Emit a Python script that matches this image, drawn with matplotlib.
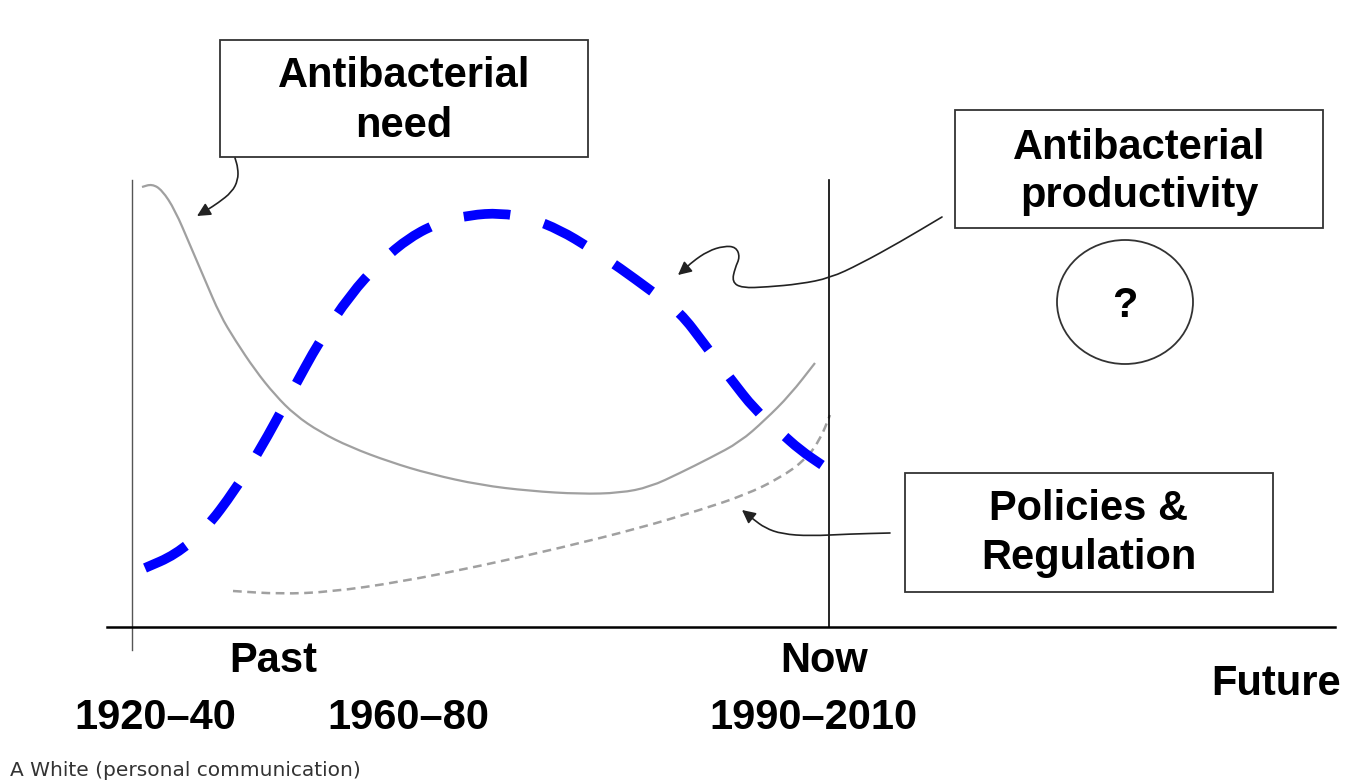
import numpy as np
import matplotlib
matplotlib.use("Agg")
import matplotlib.pyplot as plt
from matplotlib.patches import Rectangle, Ellipse, FancyArrowPatch, PathPatch
from matplotlib.path import Path

# curves (pixel space, y down)
need_x = [142, 152, 162, 175, 190, 205, 220, 235, 255, 275, 295, 320, 350, 390,
          430, 480, 530, 580, 620, 650, 680, 710, 740, 765, 790, 815]
need_y = [187, 184, 190, 210, 245, 280, 315, 340, 370, 395, 415, 432, 447, 462,
          474, 485, 491, 494, 493, 487, 473, 458, 442, 420, 395, 363]

prod_x = [145, 175, 205, 235, 260, 290, 320, 350, 380, 410, 440, 470, 500, 530,
          560, 590, 620, 650, 680, 705, 730, 755, 780, 800, 822]
prod_y = [568, 555, 530, 490, 450, 395, 340, 295, 262, 237, 222, 215, 213, 218,
          230, 248, 268, 290, 312, 345, 378, 410, 432, 450, 465]

pol_x = [233, 280, 330, 400, 480, 560, 640, 700, 745, 780, 805, 820, 830]
pol_y = [591, 594, 592, 582, 566, 548, 528, 510, 495, 478, 460, 440, 415]

era_labels = ["Past", "Now", "Future"]
era_x = [273, 824, 1276]
era_y = [661, 661, 684]
year_labels = ["1920\u201340", "1960\u201380", "1990\u20132010"]
year_x = [155, 408, 813]

W, H = 1348, 784
fig = plt.figure(figsize=(W / 100, H / 100), dpi=100)
ax = fig.add_axes([0, 0, 1, 1])
ax.set_xlim(0, W)
ax.set_ylim(H, 0)
ax.axis("off")

bold = dict(family="Liberation Sans", weight="bold", fontsize=30, color="black",
            ha="center", va="center")


def smooth_path(xs, ys):
    # quadratic bezier through midpoints, the read points act as control points
    p = np.column_stack([xs, ys]).astype(float)
    verts = [p[0], (p[0] + p[1]) / 2]
    codes = [Path.MOVETO, Path.LINETO]
    for i in range(1, len(p) - 1):
        verts += [p[i], (p[i] + p[i + 1]) / 2]
        codes += [Path.CURVE3, Path.CURVE3]
    verts.append(p[-1])
    codes.append(Path.LINETO)
    return Path(verts, codes)


def curve(xs, ys, **kw):
    pp = PathPatch(smooth_path(xs, ys), fill=False, **kw)
    ax.add_patch(pp)
    return pp


# axes of the diagram
ax.plot([132, 132], [180, 650], color="#555555", lw=1.0)
ax.plot([107, 1335], [627, 627], color="black", lw=1.8)
ax.plot([829, 829], [180, 627], color="black", lw=1.2)

# curves
curve(need_x, need_y, edgecolor="#a0a0a0", lw=1.6)
curve(pol_x, pol_y, edgecolor="#a0a0a0", lw=1.8, linestyle=(0, (3.5, 2.2)))

# blue dashes: stretch the gap a little so the line starts and ends on a dash
blue_lw = 7.0
poly = smooth_path(prod_x, prod_y).to_polygons(closed_only=False)[0]
length_px = np.sum(np.hypot(*np.diff(poly, axis=0).T))  # 1 data unit == 1 px
length_u = length_px * 0.72 / blue_lw
dash = 4.8
n = max(1, round((length_u - dash) / 8.2))
gap = (length_u - dash) / n - dash
bl = curve(prod_x, prod_y, edgecolor="#0000ff", lw=blue_lw,
           linestyle=(0, (dash, gap)))
bl.set_capstyle("butt")

# boxes
for x0, y0, w, h in [(220, 40, 368, 117), (955, 110, 368, 118), (905, 473, 368, 119)]:
    ax.add_patch(Rectangle((x0, y0), w, h, fill=True, facecolor="white",
                           edgecolor="#333333", lw=1.3, zorder=3))

ax.text(404, 76, "Antibacterial", zorder=4, **bold)
ax.text(404, 126, "need", zorder=4, **bold)
ax.text(1139, 148, "Antibacterial", zorder=4, **bold)
ax.text(1139, 196, "productivity", zorder=4, **bold)
ax.text(1089, 509, "Policies &", zorder=4, **bold)
ax.text(1089, 558, "Regulation", zorder=4, **bold)

ax.add_patch(Ellipse((1125, 302), 136, 124, fill=False, edgecolor="#333333", lw=1.3))
ax.text(1125, 306, "?", **bold)


# curved pointer arrows
def pointer(pts):
    xs, ys = zip(*pts)
    arr = FancyArrowPatch(path=smooth_path(xs, ys),
                          arrowstyle="-|>,head_length=8,head_width=4",
                          color="#222222", lw=1.2, zorder=5)
    ax.add_patch(arr)


pointer([(235, 158), (238, 168), (238, 180), (232, 192), (218, 203), (207, 210), (197, 216)])
pointer([(942, 217), (900, 242), (860, 264), (830, 278), (800, 284), (767, 287),
         (742, 288), (732, 282), (735, 268), (740, 257), (736, 247), (724, 246),
         (708, 251), (692, 262), (684, 270), (678, 275)])
pointer([(890, 533), (850, 534), (810, 536), (782, 534), (765, 528), (753, 519),
         (747, 514), (742, 510)])

# labels
for lab, x, y in zip(era_labels, era_x, era_y):
    ax.text(x, y, lab, **bold)
for lab, x in zip(year_labels, year_x):
    ax.text(x, 718, lab, **bold)

ax.text(10, 770, "A White (personal communication)", family="DejaVu Sans",
        fontsize=14.5, color="#333333", ha="left", va="center")

fig.savefig("out.png", dpi=100)
